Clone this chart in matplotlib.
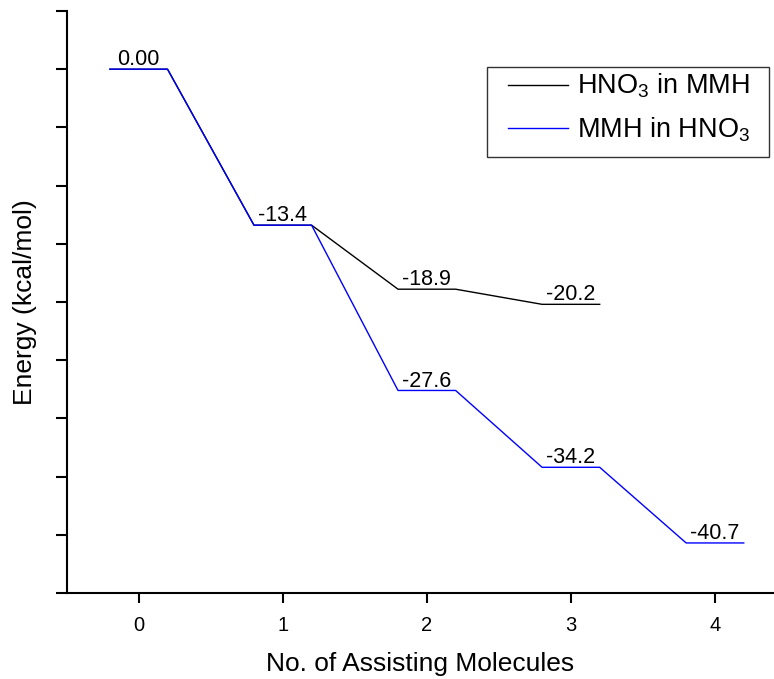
import matplotlib
matplotlib.use("Agg")
import matplotlib.pyplot as plt
from matplotlib.patches import Rectangle

plt.rcParams['font.family'] = ['Liberation Sans', 'DejaVu Sans']
plt.rcParams['mathtext.fontset'] = 'custom'
plt.rcParams['mathtext.rm'] = 'Liberation Sans'
plt.rcParams['mathtext.it'] = 'Liberation Sans:italic'
plt.rcParams['mathtext.bf'] = 'Liberation Sans:bold'

# Relative energies (kcal/mol) vs. number of assisting molecules
n_hno3_in_mmh = [0, 1, 2, 3]
e_hno3_in_mmh = [0.00, -13.4, -18.9, -20.2]
n_mmh_in_hno3 = [0, 1, 2, 3, 4]
e_mmh_in_hno3 = [0.00, -13.4, -27.6, -34.2, -40.7]
series_names = [r'HNO$_\mathregular{3}$ in MMH', r'MMH in HNO$_\mathregular{3}$']
series_colors = ['black', '#0000FF']
x_ticks = [0, 1, 2, 3, 4]
half_width = 0.2

W, H = 774, 679


def level_path(ns, es):
    xs, ys = [], []
    for n, e in zip(ns, es):
        xs += [n - half_width, n + half_width]
        ys += [e, e]
    return xs, ys


fig = plt.figure(figsize=(W / 100, H / 100), dpi=100)
ax = fig.add_axes([66.7 / W, 86 / H, 1 - 66.7 / W, (593 - 11) / H])

for ns, es, name, color in zip([n_hno3_in_mmh, n_mmh_in_hno3],
                               [e_hno3_in_mmh, e_mmh_in_hno3],
                               series_names, series_colors):
    xs, ys = level_path(ns, es)
    ax.plot(xs, ys, color=color, lw=1.0, label=name)

# Energy labels above each level (shared levels labelled once)
labelled = set()
for ns, es in [(n_hno3_in_mmh, e_hno3_in_mmh), (n_mmh_in_hno3, e_mmh_in_hno3)]:
    for n, e in zip(ns, es):
        if (n, e) in labelled:
            continue
        labelled.add((n, e))
        txt = f"{e:.2f}" if e == 0 else f"{e:.1f}"
        ax.annotate(txt, (n, e), xytext=(0, 2.8), textcoords='offset points',
                    ha='center', va='baseline', fontsize=15.5)

ax.set_xlim(-0.5, 4.41)
ax.set_ylim(-45, 5)
ax.set_xticks(x_ticks)
ax.set_yticks(range(-45, 6, 5))
ax.set_yticklabels([])
ax.tick_params(axis='x', direction='out', length=7, width=1.5, labelsize=14.5, pad=9.5)
ax.tick_params(axis='y', direction='out', length=8, width=1.5)
for side in ['top', 'right']:
    ax.spines[side].set_visible(False)
for side in ['left', 'bottom']:
    ax.spines[side].set_linewidth(1.5)

ax.set_xlabel('No. of Assisting Molecules', fontsize=19, labelpad=12)
ax.set_ylabel('Energy (kcal/mol)', fontsize=19, labelpad=10)

# Legend entries without a frame, boxed separately
leg = ax.legend(loc='upper left', bbox_to_anchor=(507.7 / W, 1 - 72 / H),
                bbox_transform=fig.transFigure, borderaxespad=0, borderpad=0,
                fontsize=19.5, handlelength=2.24, handletextpad=0.31,
                labelspacing=0.56, frameon=False)
fig.patches.append(Rectangle((486.7 / W, 1 - 156.7 / H), (769.3 - 486.7) / W,
                             (156.7 - 66.7) / H, transform=fig.transFigure,
                             facecolor='none', edgecolor='#333333', lw=1.0))

fig.savefig('out.png', dpi=100)
